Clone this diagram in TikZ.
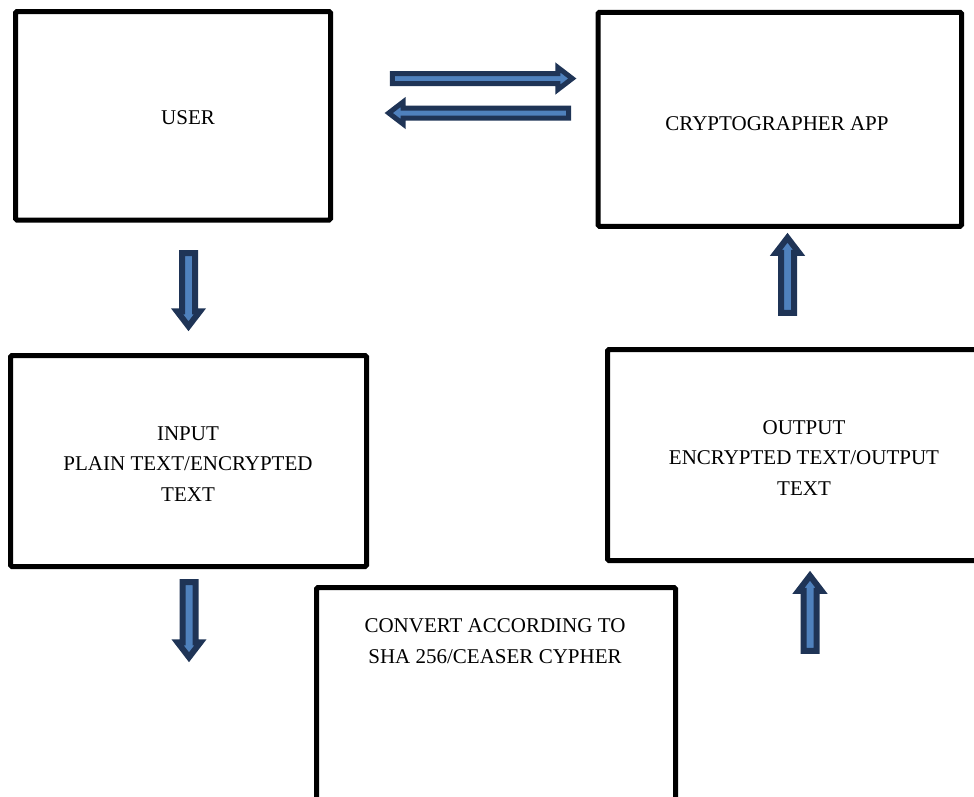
\documentclass[tikz,border=0pt]{standalone}
\usepackage{fontspec}
\setmainfont{Liberation Serif}
\usetikzlibrary{shapes.arrows,positioning}
\definecolor{arrdark}{RGB}{31,52,86}
\definecolor{arrlight}{RGB}{79,129,189}

\begin{document}
\begin{tikzpicture}[x=1pt, y=-1pt,
  node_box/.style={draw=black, line width=5pt, rounded corners=1.5pt, inner sep=0pt},
  node_txt/.style={align=center, font=\fontsize{21}{30.5}\selectfont, text=black, inner sep=0pt},
  node_arr/.style={single arrow, draw=arrdark, fill=arrlight, text height=0pt, text depth=0pt,
    line width=6pt, inner sep=3.5pt, minimum width=21pt, single arrow head extend=5pt, single arrow tip angle=75},
  node_arr_h/.style={node_arr, line width=5pt, inner sep=2.5pt, minimum width=21pt, single arrow head extend=6pt}
]
  \clip (0,0) rectangle (974,796);

  %% Boxes
  \node[node_box, minimum width=315pt, minimum height=208.5pt] (user) at (173,115.75) {};
  \node[node_box, minimum width=363.5pt, minimum height=214pt] (app) at (779.75,119.25) {};
  \node[node_box, minimum width=356pt, minimum height=211pt] (input) at (188.5,461) {};
  \node[node_box, minimum width=393pt, minimum height=211pt] (output) at (804,455) {};
  \node[node_box, minimum width=359pt, minimum height=232.5pt] (convert) at (496,703.75) {};

  %% Texts
  \node[node_txt] (user_lbl) at (188,118) {USER};
  \node[node_txt] (app_lbl) at (777,124) {CRYPTOGRAPHER APP};
  \node[node_txt] (input_lbl) at (188,464) {INPUT\\PLAIN TEXT/ENCRYPTED\\TEXT};
  \node[node_txt] (output_lbl) at (804,458) {OUTPUT\\ENCRYPTED TEXT/OUTPUT\\TEXT};
  \node[node_txt] (convert_lbl) at (495,641) {CONVERT ACCORDING TO\\SHA 256/CEASER CYPHER};

  %% Block arrows
  \node[node_arr_h, minimum height=180pt, shape border rotate=0] (to_app) at (479,78.5) {};
  \node[node_arr_h, minimum height=180pt, shape border rotate=180] (to_user) at (482,113) {};
  \node[node_arr, minimum height=73pt, shape border rotate=270] (to_input) at (188.5,285.5) {};
  \node[node_arr, minimum height=75pt, shape border rotate=270] (to_convert) at (189,615.5) {};
  \node[node_arr, minimum height=75pt, shape border rotate=90] (to_output) at (810,617.5) {};
  \node[node_arr, minimum height=75pt, shape border rotate=90] (to_app2) at (787.5,279.5) {};
\end{tikzpicture}
\end{document}
